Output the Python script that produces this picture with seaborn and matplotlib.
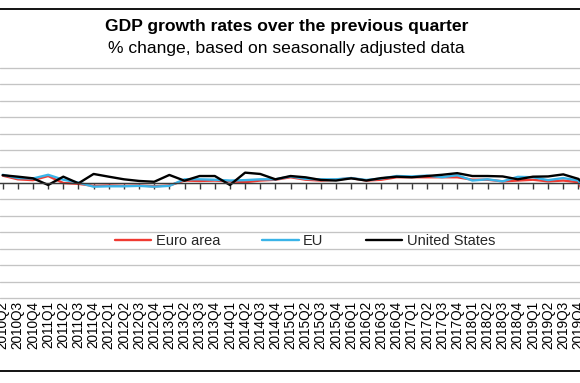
import matplotlib
matplotlib.use("Agg")
import matplotlib.pyplot as plt
from matplotlib.lines import Line2D
import seaborn as sns
import pandas as pd

# ---- data -------------------------------------------------------------
quarters = ["2010Q2", "2010Q3", "2010Q4",
            "2011Q1", "2011Q2", "2011Q3", "2011Q4",
            "2012Q1", "2012Q2", "2012Q3", "2012Q4",
            "2013Q1", "2013Q2", "2013Q3", "2013Q4",
            "2014Q1", "2014Q2", "2014Q3", "2014Q4",
            "2015Q1", "2015Q2", "2015Q3", "2015Q4",
            "2016Q1", "2016Q2", "2016Q3", "2016Q4",
            "2017Q1", "2017Q2", "2017Q3", "2017Q4",
            "2018Q1", "2018Q2", "2018Q3", "2018Q4",
            "2019Q1", "2019Q2", "2019Q3", "2019Q4",
            "2020Q1"]

euro_area = [0.9, 0.45, 0.35, 0.85, 0.0, -0.1, -0.35, -0.3, -0.35, -0.3,
             -0.4, -0.3, 0.3, 0.25, 0.3, 0.2, 0.1, 0.3, 0.4, 0.7,
             0.4, 0.3, 0.4, 0.6, 0.3, 0.4, 0.7, 0.7, 0.7, 0.7,
             0.7, 0.4, 0.4, 0.2, 0.3, 0.4, 0.2, 0.3, 0.1, -3.6]

eu = [1.0, 0.6, 0.55, 1.0, 0.4, 0.05, -0.45, -0.4, -0.4, -0.35,
      -0.45, -0.35, 0.45, 0.45, 0.4, 0.3, 0.35, 0.45, 0.45, 0.8,
      0.5, 0.45, 0.45, 0.6, 0.37, 0.55, 0.85, 0.8, 0.9, 0.7,
      0.95, 0.3, 0.45, 0.2, 0.75, 0.7, 0.35, 0.6, 0.3, -3.2]

united_states = [0.95, 0.77, 0.57, -0.24, 0.77, -0.04, 1.1, 0.77, 0.45, 0.25,
                 0.15, 0.98, 0.28, 0.85, 0.85, -0.24, 1.26, 1.1, 0.45, 0.85,
                 0.69, 0.37, 0.3, 0.57, 0.3, 0.6, 0.77, 0.7, 0.85, 1.0,
                 1.2, 0.85, 0.85, 0.8, 0.45, 0.77, 0.8, 1.05, 0.5, -1.3]

series_names = ["Euro area", "EU", "United States"]
series_colors = ["#f03a32", "#3ab4e8", "#000000"]

# ---- build long table ---------------------------------------------------
idx = list(range(len(quarters)))
df = pd.concat([
    pd.DataFrame({"idx": idx, "quarter": quarters, "value": vals, "series": name})
    for name, vals in zip(series_names, [euro_area, eu, united_states])
], ignore_index=True)

# ---- style --------------------------------------------------------------
sns.set_theme(style="white")
plt.rcParams["font.family"] = ["Liberation Sans", "DejaVu Sans"]

W, H = 580, 383
fig = plt.figure(figsize=(W / 100, H / 100), dpi=100)

# plot area: y from px 68 (top) to 298 (bottom); x index 0 at px 2.7, step 15.15 px
top_px, bot_px = 68, 298
ax = fig.add_axes([0, 1 - bot_px / H, 1, (bot_px - top_px) / H])

sns.lineplot(data=df, x="idx", y="value", hue="series", hue_order=series_names,
             palette=dict(zip(series_names, series_colors)), linewidth=1.7,
             ax=ax, legend=True, errorbar=None)

# grid
ax.set_yticks(range(-14, 15, 2))
ax.yaxis.grid(True, color="#c4c4c4", linewidth=0.95)
ax.xaxis.grid(False)
for gl in ax.get_ygridlines():
    gl.set_clip_on(False)
ax.tick_params(axis="y", left=False, labelleft=False)

# x axis at zero with downward ticks, labels at bottom of plot area
ax.set_xticks(idx)
ax.set_xticklabels(quarters)

step = 15.15
x0 = 2.7
ax.set_xlim(-x0 / step, (W - x0) / step)
ax.set_ylim(-14, 14)

for sp in ["left", "right", "top"]:
    ax.spines[sp].set_visible(False)
ax.spines["bottom"].set_position(("data", 0))
ax.spines["bottom"].set_color("#3a3a3a")
ax.spines["bottom"].set_linewidth(1.0)
ax.tick_params(axis="x", bottom=True, direction="out", length=4, width=1.0,
               color="#3a3a3a", labelrotation=90, labelsize=9.8, labelcolor="#000000",
               pad=(bot_px - 183 - 4 + 1) * 0.72)
ax.set_xlabel("")
ax.set_ylabel("")

# legend
handles, labels = ax.get_legend_handles_labels()
ax.legend(handles, labels, loc="center", bbox_to_anchor=(305 / W, 1 - 241 / H),
          bbox_transform=fig.transFigure, ncol=3, frameon=False,
          handlelength=2.5, handletextpad=0.3, columnspacing=2.9, fontsize=10.5)

# titles
fig.text(287 / W, 1 - 27 / H, "GDP growth rates over the previous quarter",
         ha="center", va="center", fontsize=12.6, fontweight="bold", color="#000000")
fig.text(286 / W, 1 - 48 / H, "% change, based on seasonally adjusted data",
         ha="center", va="center", fontsize=12.6, color="#000000")

# chart outer border (top and bottom visible in the crop)
fig.add_artist(Line2D([0, 1], [1 - 9 / H, 1 - 9 / H], transform=fig.transFigure,
                      color="black", linewidth=1.3))
fig.add_artist(Line2D([0, 1], [1 - 370.5 / H, 1 - 370.5 / H], transform=fig.transFigure,
                      color="black", linewidth=1.3))

fig.savefig("out.png", dpi=100, facecolor="white")
